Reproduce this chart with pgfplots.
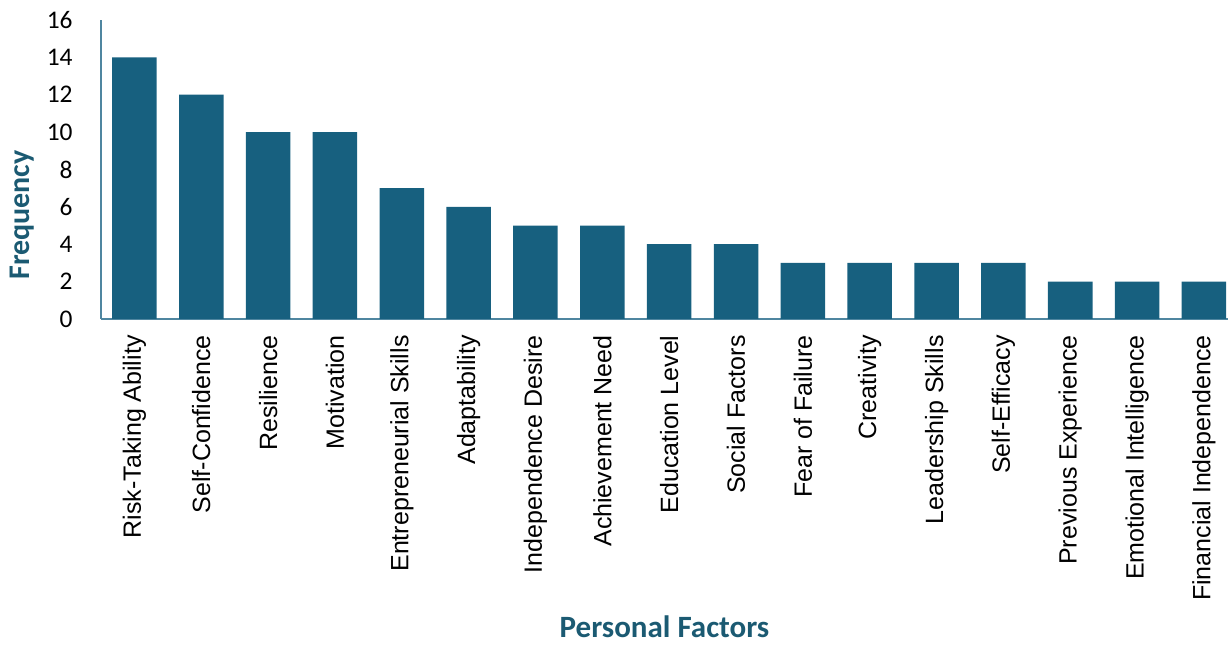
\documentclass[border=0pt]{standalone}
\usepackage{pgfplots}
\pgfplotsset{compat=1.18}
\usepackage{fontspec}
\setmainfont{Carlito}
\newfontfamily\arial{Liberation Sans}
\definecolor{barc}{HTML}{17607F}
\definecolor{titc}{HTML}{1B5A72}
\definecolor{axc}{HTML}{4F86A0}
\begin{document}
\begin{tikzpicture}
\begin{axis}[
  name=ax,
  scale only axis,
  width=563.5pt, height=149.5pt,
  xmin=-0.5, xmax=16.36,
  ymin=0, ymax=16,
  ytick={0,2,...,16},
  xtick=data,
  xticklabels={Risk-Taking Ability,Self-Confidence,Resilience,Motivation,Entrepreneurial Skills,Adaptability,Independence Desire,Achievement Need,Education Level,Social Factors,Fear of Failure,Creativity,Leadership Skills,Self-Efficacy,Previous Experience,Emotional Intelligence,Financial Independence},
  axis x line*=bottom, axis y line*=left,
  axis line style={axc, line width=0.8pt},
  major tick length=0pt,
  /pgf/number format/assume math mode=true,
  yticklabel style={font=\fontsize{12.7}{14}\selectfont, anchor=east, inner xsep=14pt, inner ysep=0pt},
  xticklabel style={font=\arial\fontsize{12.5}{14}\selectfont, rotate=90, anchor=east, inner xsep=8pt, inner ysep=0pt},
  ylabel={Frequency},
  ylabel style={font=\bfseries\fontsize{15}{17}\selectfont, color=titc, at={(axis description cs:-0.0701,0.348)}, anchor=center},
  xlabel={Personal Factors},
  xlabel style={font=\bfseries\fontsize{15.5}{17}\selectfont, color=titc, at={(axis description cs:0.5,0)}, anchor=base, inner sep=0pt, yshift=-159pt},
]
\addplot[ybar, bar width=0.666, fill=barc, draw=none] coordinates {
(0,14) (1,12) (2,10) (3,10) (4,7) (5,6) (6,5) (7,5) (8,4) (9,4) (10,3) (11,3) (12,3) (13,3) (14,2) (15,2) (16,2)};
\end{axis}
\pgfresetboundingbox
\path[use as bounding box] ([xshift=-50.5pt,yshift=-164pt]ax.south west) rectangle ([yshift=10pt]ax.north east);
\end{tikzpicture}
\end{document}
